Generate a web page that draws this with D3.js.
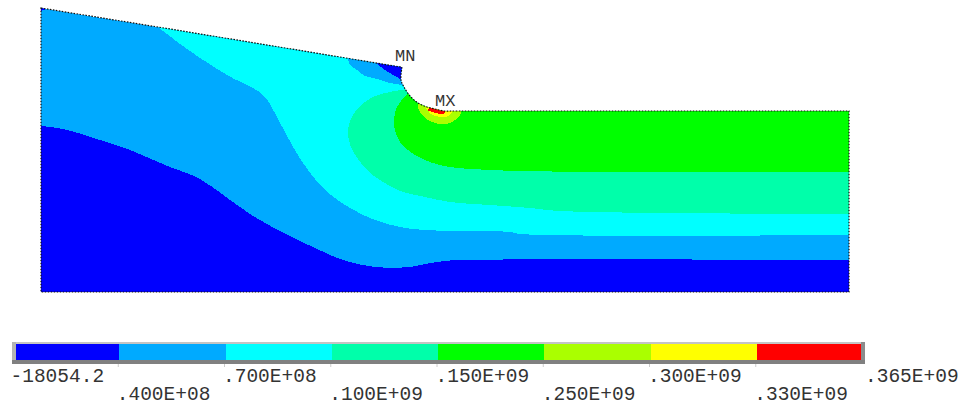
<!DOCTYPE html>
<html>
<head>
<meta charset="utf-8">
<script src="https://cdnjs.cloudflare.com/ajax/libs/d3/7.8.5/d3.min.js"></script>
<style>
  html, body { margin: 0; padding: 0; background: #fff; overflow: hidden; }
  svg { display: block; }
  text { font-family: "Liberation Mono", monospace; fill: #333; }
</style>
</head>
<body>
<svg id="contour" width="970" height="408"></svg>
<script>
// legend
var legendColors = ["#0000ff", "#00aaff", "#00ffff", "#00ffaa", "#00ff00", "#aaff00", "#ffff00", "#ff0000"];
var legendLabels = ["-18054.2", ".400E+08", ".700E+08", ".100E+09", ".150E+09", ".250E+09", ".300E+09", ".330E+09", ".365E+09"];

// model outline and contour edges, [x, y] in model units
var topEdge = [[0,284],[117,265],[299,235],[329,230],[360,225]];
var notchEdge = [[361,225],[360,212],[363,205],[369,196],[377,189],[386,185],[394,183],[403,181],[411,181],[420,181]];
var baseEdge = [[808,181],[808,0],[0,0]];

var bottomEdge = [[0,166],[22,163],[59,152],[89,142],[124,127],[159,113],[185,95],[209,78],[235,63],[259,51],[274,44],[294,35],[309,30],[334,25],[369,25],[384,28],[404,31],[419,32],[808,32]];
var cyanEdge = [[117,265],[146,243],[186,217],[222,197],[236,175],[252,145],[267,122],[284,102],[309,84],[334,72],[359,65],[384,62],[434,61],[469,60],[479,58],[808,57]];
var seafoamEdge = [[366,203],[332,195],[314,180],[307,162],[310,145],[326,122],[339,112],[359,101],[384,95],[409,90],[449,87],[489,84],[519,81],[808,78]];
var greenEdge = [[367,199],[356,185],[353,172],[354,162],[359,150],[374,137],[399,127],[449,122],[808,120]];
var limeEdge = [[377,191],[377,184],[384,174],[399,168],[411,170],[419,177],[420,181]];
var yellowEdge = [[384,186],[390,178],[404,175],[410,178],[411,182]];
var redEdge = [[386,182],[395,179],[403,178],[404,182]];
var minOuterEdge = [[307,234],[309,227],[316,222],[324,216],[337,213],[349,209],[362,207]];
var minInnerEdge = [[334,230],[344,222],[354,216],[361,212]];
var cornerEdge = [[0,281],[5,283]];

var minLabel = [354, 231];
var maxLabel = [394, 186];

function main() {
  var svg = d3.select("#contour");

  var xScale = d3.scaleLinear().domain([0, 808]).range([41, 849]);
  var yScale = d3.scaleLinear().domain([0, 284]).range([292, 8]);

  var straight = d3.line()
    .x(function(d) { return xScale(d[0]); })
    .y(function(d) { return yScale(d[1]); });

  var smooth = d3.line()
    .x(function(d) { return xScale(d[0]); })
    .y(function(d) { return yScale(d[1]); })
    .curve(d3.curveCatmullRom.alpha(0.5));

  // smooth edge, then straight run round the far side (clipped to the body)
  function bandPath(edge, closing) {
    return smooth(edge) + straight(closing).replace("M", "L") + "Z";
  }

  var bodyPath = straight(topEdge) + smooth(notchEdge).replace("M", "L") + straight(baseEdge).replace("M", "L") + "Z";

  svg.append("clipPath").attr("id", "body")
    .append("path").attr("d", bodyPath);

  var g = svg.append("g").attr("clip-path", "url(#body)");

  // painted back to front, each band covers the one before it
  var bands = [
    [bandPath(cyanEdge, [[808,300],[117,300]]), legendColors[2]],
    [bandPath(bottomEdge, [[808,0],[0,0]]), legendColors[0]],
    [bandPath(minOuterEdge, [[362,232]]), legendColors[1]],
    [bandPath(minInnerEdge, [[362,230]]), legendColors[0]],
    [bandPath(cornerEdge, [[0,284]]), legendColors[0]],
    [bandPath(seafoamEdge, [[808,200],[380,200]]), legendColors[3]],
    [bandPath(greenEdge, [[808,200],[380,200]]), legendColors[4]],
    [bandPath(limeEdge, [[400,200]]), legendColors[5]],
    [bandPath(yellowEdge, [[398,190]]), legendColors[6]],
    [bandPath(redEdge, [[395,190]]), legendColors[7]]
  ];

  g.append("path")
    .attr("d", bodyPath)
    .attr("fill", legendColors[1])
    .attr("shape-rendering", "crispEdges");

  g.selectAll(".band")
    .data(bands)
    .enter().append("path")
    .attr("class", "band")
    .attr("d", function(d) { return d[0]; })
    .attr("fill", function(d) { return d[1]; })
    .attr("shape-rendering", "crispEdges");

  // dotted outline of the body
  svg.append("path")
    .attr("d", bodyPath)
    .attr("fill", "none")
    .attr("stroke", "#111")
    .attr("stroke-width", 1.2)
    .attr("stroke-dasharray", "1.6 1.4");

  svg.append("text").attr("x", xScale(minLabel[0])).attr("y", yScale(minLabel[1]))
    .attr("font-size", 17).text("MN");
  svg.append("text").attr("x", xScale(maxLabel[0])).attr("y", yScale(maxLabel[1]))
    .attr("font-size", 17).text("MX");

  // legend bar
  var legendScale = d3.scaleBand().domain(d3.range(legendColors.length)).range([13, 863]);

  svg.selectAll(".swatch")
    .data(legendColors)
    .enter().append("rect")
    .attr("class", "swatch")
    .attr("x", function(d, i) { return legendScale(i); })
    .attr("y", 344)
    .attr("width", legendScale.bandwidth())
    .attr("height", 16)
    .attr("fill", function(d) { return d; })
    .attr("shape-rendering", "crispEdges");

  // bevelled frame round the bar
  var frame = [
    [12, 342, 853, 2, "#c4c4c4"],
    [12, 342, 4, 22, "#b4b4b4"],
    [861, 342, 4, 22, "#8c8c8c"],
    [12, 360, 853, 4, "#808080"]
  ];
  svg.selectAll(".frame")
    .data(frame)
    .enter().append("rect")
    .attr("class", "frame")
    .attr("x", function(d) { return d[0]; })
    .attr("y", function(d) { return d[1]; })
    .attr("width", function(d) { return d[2]; })
    .attr("height", function(d) { return d[3]; })
    .attr("fill", function(d) { return d[4]; })
    .attr("shape-rendering", "crispEdges");

  svg.selectAll(".tick")
    .data(d3.range(1, legendColors.length))
    .enter().append("line")
    .attr("class", "tick")
    .attr("x1", function(d) { return legendScale(d) - 1; })
    .attr("x2", function(d) { return legendScale(d) - 1; })
    .attr("y1", 364)
    .attr("y2", 367)
    .attr("stroke", "#ccc");

  svg.selectAll(".label")
    .data(legendLabels)
    .enter().append("text")
    .attr("class", "label")
    .attr("x", function(d, i) {
      return i === legendLabels.length - 1 ? 865 : (i === 0 ? 10.5 : legendScale(i) - 2.5);
    })
    .attr("y", function(d, i) { return i % 2 === 0 ? 382 : 400; })
    .attr("font-size", 19.5)
    .text(function(d) { return d; });
}

main();
</script>
</body>
</html>
